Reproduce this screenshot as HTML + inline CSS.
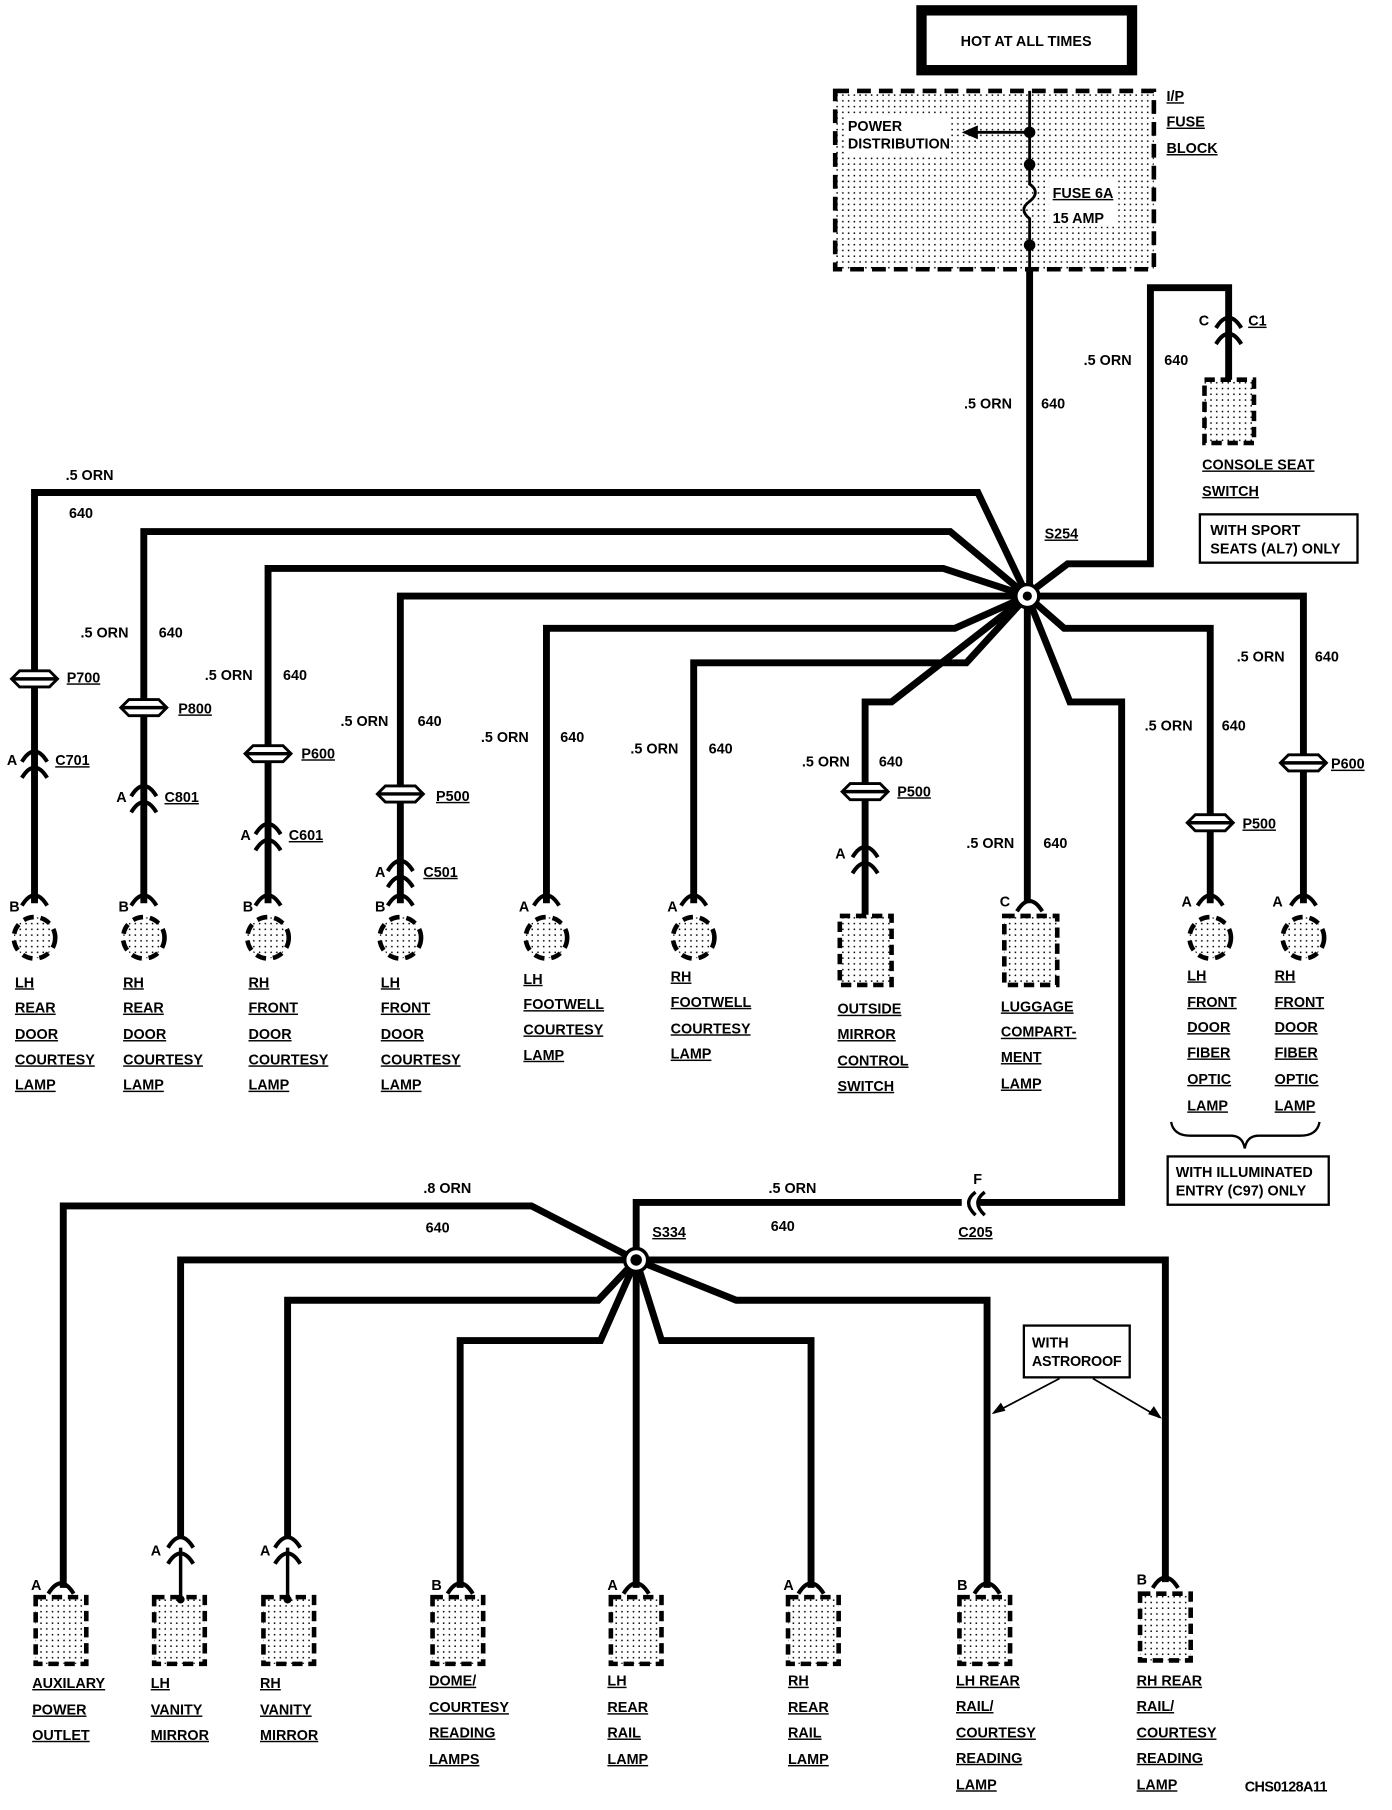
<!DOCTYPE html>
<html><head><meta charset="utf-8"><style>
html,body{margin:0;padding:0;background:#fff}
svg{display:block}
text{font-family:"Liberation Sans",sans-serif;font-size:12.5px;fill:#000;font-weight:bold;letter-spacing:0}
.u{text-decoration:underline}
.w{fill:none;stroke:#000;stroke-width:6;stroke-linejoin:miter}
</style></head><body>
<svg width="1392" height="1810" viewBox="0 0 1210 1573" preserveAspectRatio="none" xmlns="http://www.w3.org/2000/svg">
<defs>
<pattern id="dots" width="5" height="5" patternUnits="userSpaceOnUse"><rect x="2" y="2" width="1.3" height="1.3" fill="#000"/></pattern>
<g id="P"><path d="M-20,0 L-13,-7 L13,-7 L20,0 L13,7 L-13,7 Z" fill="#fff" stroke="#000" stroke-width="2.5"/><line x1="-20" y1="0" x2="20" y2="0" stroke="#000" stroke-width="3"/></g>
<g id="C" fill="none" stroke="#000" stroke-width="3.5"><path d="M-11,0 Q0,-18 11,0"/><path d="M-11,14 Q0,-4 11,14"/></g>
<g id="K"><path d="M-11,-28 Q0,-46 11,-28" fill="none" stroke="#000" stroke-width="3.5"/><circle cx="0" cy="0" r="18" fill="url(#dots)" stroke="#000" stroke-width="4" stroke-dasharray="9,6"/></g>
<g id="R"><rect x="-22" y="0" width="44" height="58" fill="url(#dots)" stroke="#000" stroke-width="4" stroke-dasharray="9,5"/></g>
<g id="T"><path d="M-11,0 Q0,-18 11,0" fill="none" stroke="#000" stroke-width="3.5"/></g>
</defs>

<rect x="801" y="9" width="183" height="52" fill="#fff" stroke="#000" stroke-width="9"/>
<text x="835" y="40">HOT AT ALL TIMES</text>
<rect x="726" y="79" width="277" height="155" fill="url(#dots)" stroke="#000" stroke-width="4" stroke-dasharray="12,7"/>
<rect x="734" y="100" width="92" height="34" fill="#fff"/>
<text x="737" y="114" font-size="12">POWER</text>
<text x="737" y="129" font-size="12">DISTRIBUTION</text>
<path d="M895,79 V160 Q905,167 895,175 Q885,182 895,190 V235" fill="none" stroke="#000" stroke-width="2.5"/>
<line x1="895" y1="115" x2="848" y2="115" stroke="#000" stroke-width="2.5"/>
<path d="M836,115 L850,109 L850,121 Z"/>
<circle cx="895" cy="115" r="5"/><circle cx="895" cy="143" r="5"/><circle cx="895" cy="213" r="5"/>
<rect x="912" y="155" width="60" height="42" fill="#fff"/>
<text x="915" y="172" class="u">FUSE 6A</text>
<text x="915" y="194">15 AMP</text>
<text x="1014" y="88" class="u">I/P</text>
<text x="1014" y="110" class="u">FUSE</text>
<text x="1014" y="133" class="u">BLOCK</text>

<path class="w" d="M895,235 V515"/>
<text x="838" y="355">.5 ORN</text><text x="905" y="355">640</text>
<path class="w" d="M895,515 L928,490 H1000 V250 H1068 V330"/>
<use href="#C" x="1068" y="285"/>
<text x="1042" y="283">C</text><text x="1085" y="283" class="u">C1</text>
<text x="942" y="317">.5 ORN</text><text x="1012" y="317">640</text>
<rect x="1047" y="330" width="43" height="55" fill="url(#dots)" stroke="#000" stroke-width="4" stroke-dasharray="9,5"/>
<text x="1045" y="408" class="u">CONSOLE SEAT</text>
<text x="1045" y="431" class="u">SWITCH</text>
<rect x="1043" y="447" width="137" height="42" fill="#fff" stroke="#000" stroke-width="2"/>
<text x="1052" y="465">WITH SPORT</text><text x="1052" y="481">SEATS (AL7) ONLY</text>
<text x="908" y="468" class="u">S254</text>

<path class="w" d="M893,518 L850,428 H30 V785"/>
<path class="w" d="M893,518 L826,462 H125 V785"/>
<path class="w" d="M893,518 L820,494 H233 V785"/>
<path class="w" d="M893,518 H348 V785"/>
<path class="w" d="M893,518 L830,546 H475 V785"/>
<path class="w" d="M893,518 L840,576 H603 V785"/>
<path class="w" d="M893,518 L775,610 H752 V795"/>
<path class="w" d="M893,518 V785"/>
<path class="w" d="M893,518 L930,610 H975 V1045 H553 V1095"/>
<path class="w" d="M893,518 L925,546 H1052 V785"/>
<path class="w" d="M893,518 H1133 V785"/>
<circle cx="893" cy="518" r="10" fill="#fff" stroke="#000" stroke-width="3"/><circle cx="893" cy="518" r="4"/>

<text x="57" y="417">.5 ORN</text><text x="60" y="450">640</text>
<text x="70" y="554">.5 ORN</text><text x="138" y="554">640</text>
<text x="178" y="591">.5 ORN</text><text x="246" y="591">640</text>
<text x="296" y="631">.5 ORN</text><text x="363" y="631">640</text>
<text x="418" y="645">.5 ORN</text><text x="487" y="645">640</text>
<text x="548" y="655">.5 ORN</text><text x="616" y="655">640</text>
<text x="697" y="666">.5 ORN</text><text x="764" y="666">640</text>
<text x="840" y="737">.5 ORN</text><text x="907" y="737">640</text>
<text x="995" y="635">.5 ORN</text><text x="1062" y="635">640</text>
<text x="1075" y="575">.5 ORN</text><text x="1143" y="575">640</text>

<use href="#P" x="30" y="590"/><text x="58" y="593" class="u">P700</text>
<use href="#C" x="30" y="662"/><text x="6" y="665">A</text><text x="48" y="665" class="u">C701</text>
<use href="#P" x="125" y="615"/><text x="155" y="620" class="u">P800</text>
<use href="#C" x="125" y="692"/><text x="101" y="697">A</text><text x="143" y="697" class="u">C801</text>
<use href="#P" x="233" y="655"/><text x="262" y="659" class="u">P600</text>
<use href="#C" x="233" y="725"/><text x="209" y="730">A</text><text x="251" y="730" class="u">C601</text>
<use href="#P" x="348" y="690"/><text x="379" y="696" class="u">P500</text>
<use href="#C" x="348" y="757"/><text x="326" y="762">A</text><text x="368" y="762" class="u">C501</text>
<use href="#P" x="752" y="688"/><text x="780" y="692" class="u">P500</text>
<use href="#C" x="752" y="745"/><text x="726" y="746">A</text>
<use href="#P" x="1052" y="715"/><text x="1080" y="720" class="u">P500</text>
<use href="#P" x="1133" y="663"/><text x="1157" y="668" class="u">P600</text>

<use href="#K" x="30" y="815"/><text x="8" y="792">B</text>
<use href="#K" x="125" y="815"/><text x="103" y="792">B</text>
<use href="#K" x="233" y="815"/><text x="211" y="792">B</text>
<use href="#K" x="348" y="815"/><text x="326" y="792">B</text>
<use href="#K" x="475" y="815"/><text x="451" y="792">A</text>
<use href="#K" x="603" y="815"/><text x="580" y="792">A</text>
<use href="#K" x="1052" y="815"/><text x="1027" y="788">A</text>
<use href="#K" x="1133" y="815"/><text x="1106" y="788">A</text>
<rect x="730" y="796" width="45" height="60" fill="url(#dots)" stroke="#000" stroke-width="4" stroke-dasharray="9,5"/>
<use href="#T" x="895" y="792"/><text x="869" y="788">C</text>
<rect x="873" y="796" width="46" height="60" fill="url(#dots)" stroke="#000" stroke-width="4" stroke-dasharray="9,5"/>

<text x="13" y="858" class="u">LH</text><text x="13" y="880" class="u">REAR</text><text x="13" y="903" class="u">DOOR</text><text x="13" y="925" class="u">COURTESY</text><text x="13" y="947" class="u">LAMP</text>
<text x="107" y="858" class="u">RH</text><text x="107" y="880" class="u">REAR</text><text x="107" y="903" class="u">DOOR</text><text x="107" y="925" class="u">COURTESY</text><text x="107" y="947" class="u">LAMP</text>
<text x="216" y="858" class="u">RH</text><text x="216" y="880" class="u">FRONT</text><text x="216" y="903" class="u">DOOR</text><text x="216" y="925" class="u">COURTESY</text><text x="216" y="947" class="u">LAMP</text>
<text x="331" y="858" class="u">LH</text><text x="331" y="880" class="u">FRONT</text><text x="331" y="903" class="u">DOOR</text><text x="331" y="925" class="u">COURTESY</text><text x="331" y="947" class="u">LAMP</text>
<text x="455" y="855" class="u">LH</text><text x="455" y="877" class="u">FOOTWELL</text><text x="455" y="899" class="u">COURTESY</text><text x="455" y="921" class="u">LAMP</text>
<text x="583" y="853" class="u">RH</text><text x="583" y="875" class="u">FOOTWELL</text><text x="583" y="898" class="u">COURTESY</text><text x="583" y="920" class="u">LAMP</text>
<text x="728" y="881" class="u">OUTSIDE</text><text x="728" y="903" class="u">MIRROR</text><text x="728" y="926" class="u">CONTROL</text><text x="728" y="948" class="u">SWITCH</text>
<text x="870" y="879" class="u">LUGGAGE</text><text x="870" y="901" class="u">COMPART-</text><text x="870" y="923" class="u">MENT</text><text x="870" y="946" class="u">LAMP</text>
<text x="1032" y="852" class="u">LH</text><text x="1032" y="875" class="u">FRONT</text><text x="1032" y="897" class="u">DOOR</text><text x="1032" y="919" class="u">FIBER</text><text x="1032" y="942" class="u">OPTIC</text><text x="1032" y="965" class="u">LAMP</text>
<text x="1108" y="852" class="u">RH</text><text x="1108" y="875" class="u">FRONT</text><text x="1108" y="897" class="u">DOOR</text><text x="1108" y="919" class="u">FIBER</text><text x="1108" y="942" class="u">OPTIC</text><text x="1108" y="965" class="u">LAMP</text>
<path d="M1018,975 Q1020,987 1035,987 H1070 Q1080,987 1082,998 Q1084,987 1094,987 H1130 Q1145,987 1147,975" fill="none" stroke="#000" stroke-width="2"/>
<rect x="1015" y="1005" width="140" height="42" fill="#fff" stroke="#000" stroke-width="2"/>
<text x="1022" y="1023">WITH ILLUMINATED</text><text x="1022" y="1039">ENTRY (C97) ONLY</text>

<rect x="836" y="1035" width="14" height="22" fill="#fff"/>
<path d="M848,1036 Q836,1045 848,1056 M856,1036 Q844,1045 856,1056" fill="none" stroke="#000" stroke-width="3"/>
<text x="846" y="1029">F</text><text x="833" y="1075" class="u">C205</text>
<text x="668" y="1037">.5 ORN</text><text x="670" y="1070">640</text>
<text x="567" y="1075" class="u">S334</text>
<text x="368" y="1037">.8 ORN</text><text x="370" y="1071">640</text>

<path class="w" d="M553,1095 L462,1048 H55 V1380"/>
<path class="w" d="M553,1095 H157 V1335"/>
<path class="w" d="M553,1095 L520,1130 H250 V1335"/>
<path class="w" d="M553,1095 L522,1165 H400 V1380"/>
<path class="w" d="M553,1095 V1380"/>
<path class="w" d="M553,1095 L575,1165 H705 V1380"/>
<path class="w" d="M553,1095 L640,1130 H858 V1380"/>
<path class="w" d="M553,1095 H1013 V1375"/>
<circle cx="553" cy="1095" r="10" fill="#fff" stroke="#000" stroke-width="3"/><circle cx="553" cy="1095" r="5"/>

<use href="#C" x="157" y="1345"/><text x="131" y="1352">A</text><line x1="157" y1="1345" x2="157" y2="1390" stroke="#000" stroke-width="3"/><circle cx="157" cy="1390" r="3.5"/>
<use href="#C" x="250" y="1345"/><text x="226" y="1352">A</text><line x1="250" y1="1345" x2="250" y2="1390" stroke="#000" stroke-width="3"/><circle cx="250" cy="1390" r="3.5"/>
<use href="#T" x="53" y="1385"/><text x="27" y="1382">A</text>
<use href="#T" x="400" y="1385"/><text x="375" y="1382">B</text>
<use href="#T" x="553" y="1385"/><text x="528" y="1382">A</text>
<use href="#T" x="705" y="1385"/><text x="681" y="1382">A</text>
<use href="#T" x="858" y="1385"/><text x="832" y="1382">B</text>
<use href="#T" x="1013" y="1380"/><text x="988" y="1377">B</text>

<use href="#R" x="53" y="1388"/>
<use href="#R" x="156" y="1388"/>
<use href="#R" x="251" y="1388"/>
<use href="#R" x="398" y="1388"/>
<use href="#R" x="553" y="1388"/>
<use href="#R" x="707" y="1388"/>
<use href="#R" x="856" y="1388"/>
<use href="#R" x="1013" y="1385"/>

<rect x="890" y="1152" width="92" height="45" fill="#fff" stroke="#000" stroke-width="2"/>
<text x="897" y="1171" font-size="12">WITH</text><text x="897" y="1187" font-size="12" textLength="78">ASTROROOF</text>
<path d="M921,1198 L864,1228 M950,1198 L1008,1232" stroke="#000" stroke-width="1.5"/>
<path d="M862,1229 L870,1219 L874,1226 Z M1010,1233 L998,1229 L1003,1222 Z"/>

<text x="28" y="1467" class="u">AUXILARY</text><text x="28" y="1490" class="u">POWER</text><text x="28" y="1512" class="u">OUTLET</text>
<text x="131" y="1467" class="u">LH</text><text x="131" y="1490" class="u">VANITY</text><text x="131" y="1512" class="u">MIRROR</text>
<text x="226" y="1467" class="u">RH</text><text x="226" y="1490" class="u">VANITY</text><text x="226" y="1512" class="u">MIRROR</text>
<text x="373" y="1465" class="u">DOME/</text><text x="373" y="1488" class="u">COURTESY</text><text x="373" y="1510" class="u">READING</text><text x="373" y="1533" class="u">LAMPS</text>
<text x="528" y="1465" class="u">LH</text><text x="528" y="1488" class="u">REAR</text><text x="528" y="1510" class="u">RAIL</text><text x="528" y="1533" class="u">LAMP</text>
<text x="685" y="1465" class="u">RH</text><text x="685" y="1488" class="u">REAR</text><text x="685" y="1510" class="u">RAIL</text><text x="685" y="1533" class="u">LAMP</text>
<text x="831" y="1465" class="u">LH REAR</text><text x="831" y="1487" class="u">RAIL/</text><text x="831" y="1510" class="u">COURTESY</text><text x="831" y="1532" class="u">READING</text><text x="831" y="1555" class="u">LAMP</text>
<text x="988" y="1465" class="u">RH REAR</text><text x="988" y="1487" class="u">RAIL/</text><text x="988" y="1510" class="u">COURTESY</text><text x="988" y="1532" class="u">READING</text><text x="988" y="1555" class="u">LAMP</text>
<text x="1082" y="1557" font-size="15" style="letter-spacing:-0.5px">CHS0128A11</text>
</svg>
</body></html>
